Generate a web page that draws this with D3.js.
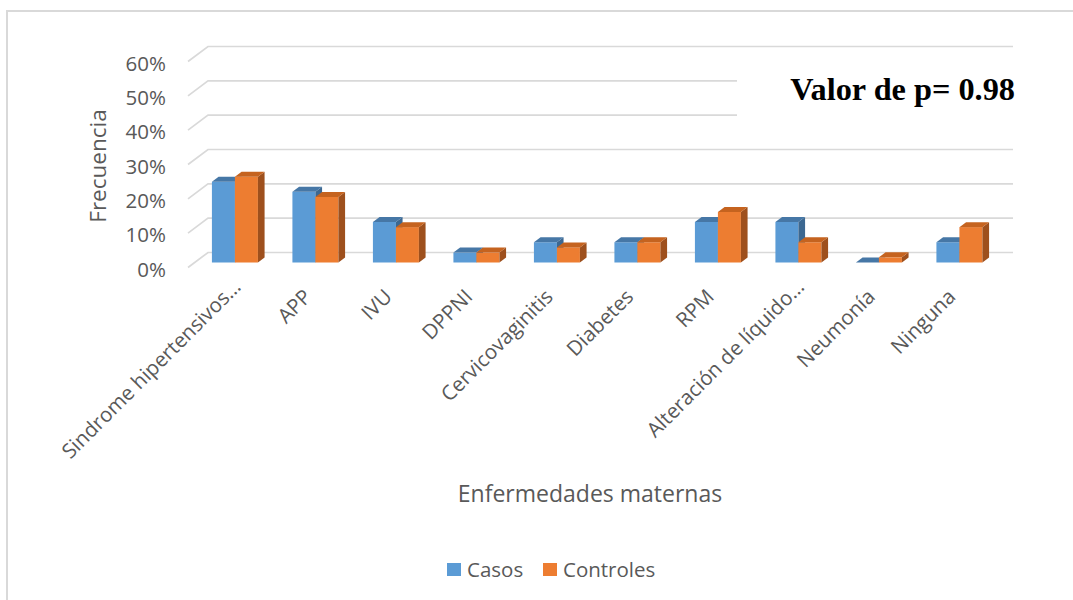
<!DOCTYPE html>
<html><head><meta charset="utf-8">
<script src="https://cdn.jsdelivr.net/npm/d3@7"></script>
<style>body{margin:0;background:#fff}svg{display:block}</style>
</head><body><svg id="c" width="1073" height="600"></svg>
<script>
const categories = ["Sindrome hipertensivos…","APP","IVU","DPPNI","Cervicovaginitis","Diabetes","RPM","Alteración de líquido…","Neumonía","Ninguna"];
const casos = [0.235,0.206,0.118,0.029,0.059,0.059,0.118,0.118,0.0,0.059];
const controles = [0.25,0.191,0.103,0.029,0.044,0.059,0.147,0.059,0.015,0.103];
const yTicks = [0,0.1,0.2,0.3,0.4,0.5,0.6];
const seriesNames = ["Casos","Controles"];

const svg = d3.select("#c");
const font = "'Open Sans', sans-serif";
const DX = 20, DY = -15; // depth vector front->back
// front plane scales
const x = d3.scaleBand().domain(categories).range([188, 993]);
const y = d3.scaleLinear().domain([0,0.6]).range([267.5, 61.5]);
const P = (px, v, d) => [px + d*DX, y(v) + d*DY];

// chart border
svg.append("rect").attr("x",7).attr("y",11).attr("width",1080).attr("height",600)
  .attr("fill","none").attr("stroke","#D9D9D9").attr("stroke-width",2);

// gridlines (back wall + left side)
const grid = svg.append("g");
yTicks.forEach(t => {
  const a = P(188, t, 0), b = P(188, t, 1), c = P(993, t, 1);
  grid.append("path").attr("d", `M${a}L${b}L${c}`).attr("fill","none")
    .attr("stroke","#D9D9D9").attr("stroke-width",1.7);
});

// y tick labels
svg.append("g").selectAll("text").data(yTicks).join("text")
  .attr("x",166).attr("y",d=>y(d)+2).attr("dy","0.35em").attr("text-anchor","end")
  .attr("font-family",font).attr("font-size",20.5).attr("fill","#595959")
  .text(d3.format(".0%"));

// bars
const bw = 23, gapL = (x.bandwidth() - 2*bw)/2;
const colors = {
  Casos:{front:"#5B9BD5", top:"#4677A6", side:"#3C6891"},
  Controles:{front:"#ED7D31", top:"#C5631F", side:"#9E501D"}
};
const d0 = 1/3, d1 = 2/3;
const bars = svg.append("g");
categories.forEach((cat, i) => {
  [["Casos", casos[i]], ["Controles", controles[i]]].forEach(([s, v], k) => {
    const xl = x(cat) + gapL + k*bw, xr = xl + bw;
    const c = colors[s];
    const g = bars.append("g");
    const f = [P(xl,0,d0), P(xr,0,d0), P(xr,v,d0), P(xl,v,d0)];
    g.append("path").attr("d","M"+f.join("L")+"Z").attr("fill",c.front);
    const sd = [P(xr,0,d0), P(xr,0,d1), P(xr,v,d1), P(xr,v,d0)];
    g.append("path").attr("d","M"+sd.join("L")+"Z").attr("fill",c.side);
    const tp = [P(xl,v,d0), P(xr,v,d0), P(xr,v,d1), P(xl,v,d1)];
    g.append("path").attr("d","M"+tp.join("L")+"Z").attr("fill",c.top);
  });
});

// category labels
svg.append("g").selectAll("text").data(categories).join("text")
  .attr("transform", d => `translate(${x(d)+x.bandwidth()/2+4},298) rotate(-45)`)
  .attr("dx", d => d.endsWith("…") ? 14 : 0)
  .attr("text-anchor","end").attr("font-family",font).attr("font-size",20.5).attr("fill","#595959")
  .text(d=>d);

// axis titles
svg.append("text").attr("x",590).attr("y",502).attr("text-anchor","middle")
  .attr("font-family",font).attr("font-size",23).attr("fill","#595959").text("Enfermedades maternas");
svg.append("text").attr("transform","translate(106,166) rotate(-90)").attr("text-anchor","middle")
  .attr("font-family",font).attr("font-size",22.5).attr("fill","#595959").text("Frecuencia");

// p-value box
svg.append("rect").attr("x",737).attr("y",60).attr("width",290).attr("height",75).attr("fill","#fff");
svg.append("text").attr("x",1015).attr("y",100).attr("text-anchor","end")
  .attr("font-family","'Liberation Serif','Times New Roman',serif").attr("font-weight","bold")
  .attr("font-size",32.3).attr("fill","#000").text("Valor de p= 0.98");

// legend
const leg = svg.append("g");
const legX = [447, 543];
seriesNames.forEach((s,k) => {
  leg.append("rect").attr("x",legX[k]).attr("y",563).attr("width",14).attr("height",13).attr("fill",colors[s].front);
  leg.append("text").attr("x",legX[k]+20).attr("y",576.5).attr("font-family",font).attr("font-size",20.5)
    .attr("fill","#595959").text(s);
});
</script></body></html>
